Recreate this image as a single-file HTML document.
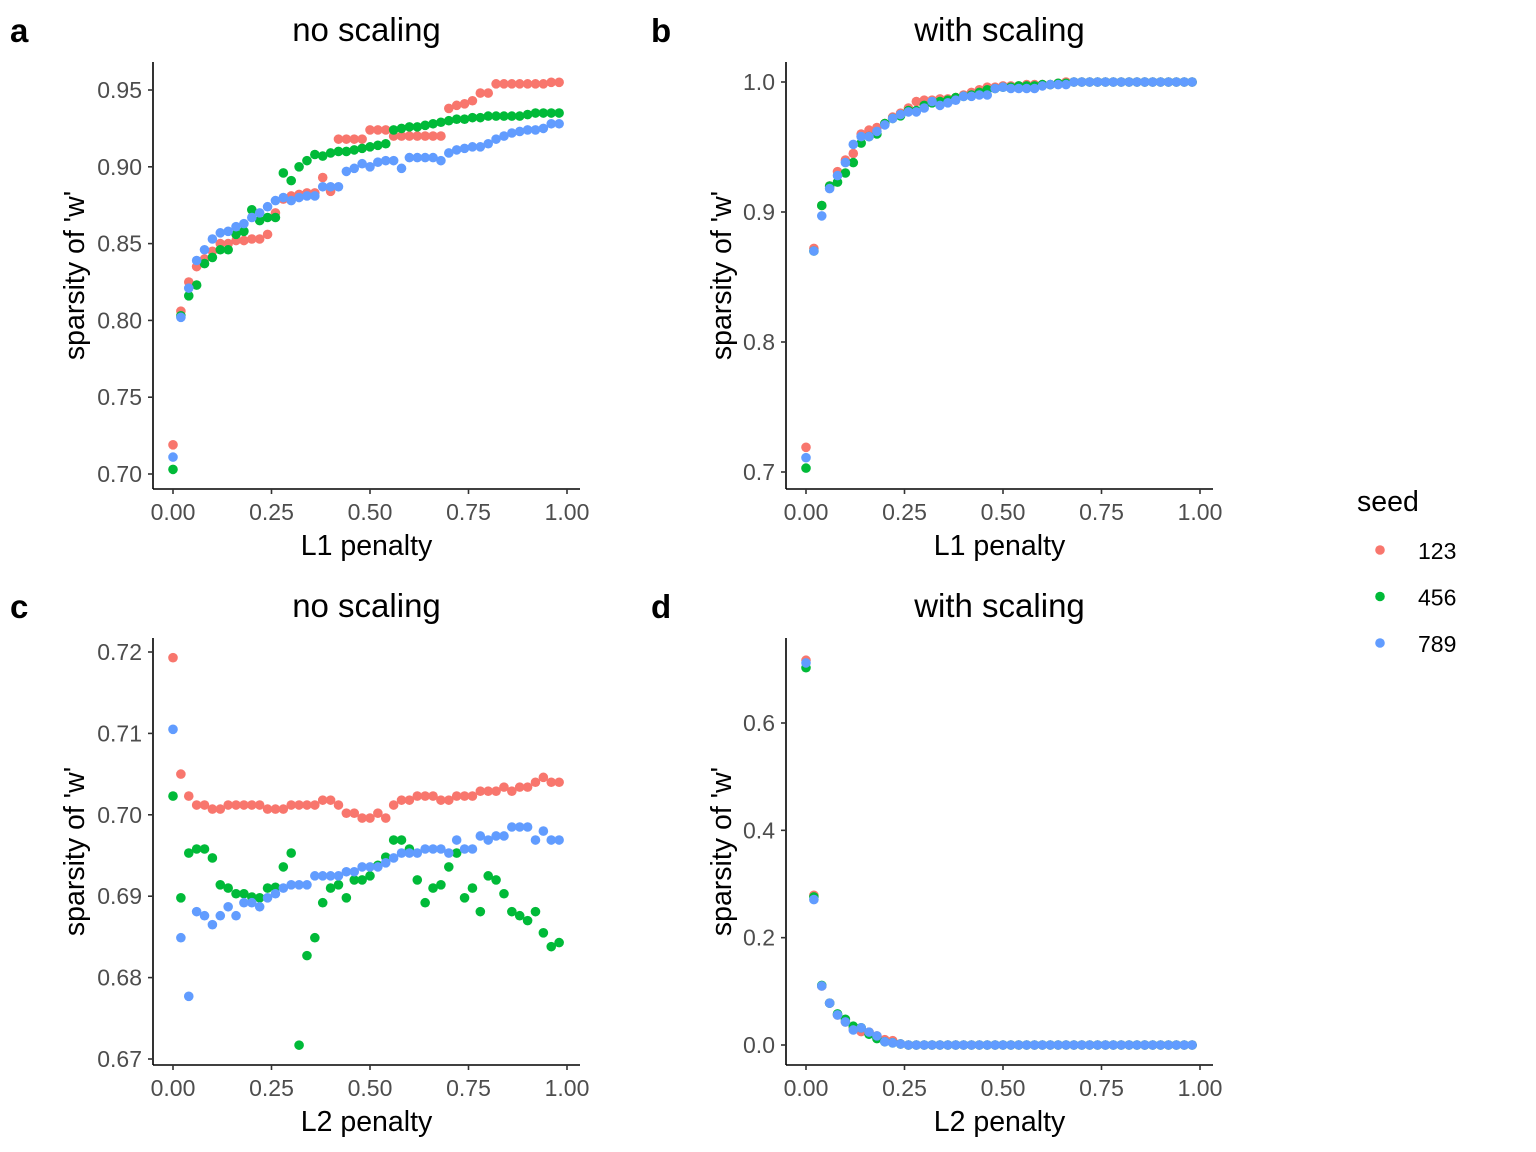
<!DOCTYPE html>
<html><head><meta charset="utf-8">
<style>
body{margin:0;background:#fff;}
svg{display:block;font-family:"Liberation Sans",Arial,sans-serif;}
.tick{fill:#4d4d4d;font-size:23px;}
.ttl{fill:#000;font-size:28.5px;}
.ptitle{fill:#000;font-size:33px;}
.tag{fill:#000;font-size:33px;font-weight:bold;}
</style></head>
<body>
<svg id="chart" width="1536" height="1152" viewBox="0 0 1536 1152"></svg>
<script>
// ---- data ----
const xValues = [];
for (let i = 0; i < 50; i++) xValues.push(+(i * 0.02).toFixed(2));
const seeds = ["123", "456", "789"];
const colors = ["#F8766D", "#00BA38", "#619CFF"];

const aRed = [0.719,0.806,0.825,0.835,0.840,0.845,0.850,0.850,0.852,0.852,0.853,0.853,0.856,0.870,0.879,0.881,0.882,0.883,0.883,0.893,0.884,0.918,0.918,0.918,0.918,0.924,0.924,0.924,0.920,0.920,0.920,0.920,0.920,0.920,0.920,0.938,0.940,0.941,0.943,0.948,0.948,0.954,0.954,0.954,0.954,0.954,0.954,0.954,0.955,0.955];
const aGreen = [0.703,0.803,0.816,0.823,0.837,0.841,0.846,0.846,0.856,0.858,0.872,0.865,0.867,0.867,0.896,0.891,0.900,0.904,0.908,0.907,0.909,0.910,0.910,0.911,0.912,0.913,0.914,0.915,0.924,0.925,0.926,0.926,0.927,0.928,0.929,0.930,0.931,0.931,0.932,0.932,0.933,0.933,0.933,0.933,0.933,0.934,0.935,0.935,0.935,0.935];
const aBlue = [0.711,0.802,0.821,0.839,0.846,0.853,0.857,0.858,0.861,0.863,0.867,0.870,0.874,0.878,0.880,0.878,0.880,0.881,0.881,0.887,0.887,0.887,0.897,0.899,0.902,0.900,0.903,0.904,0.904,0.899,0.906,0.906,0.906,0.906,0.904,0.909,0.911,0.912,0.913,0.913,0.915,0.918,0.920,0.922,0.923,0.924,0.924,0.925,0.928,0.928];

const bRed = [0.719,0.872,0.905,0.920,0.931,0.940,0.945,0.960,0.963,0.965,0.968,0.973,0.976,0.980,0.985,0.986,0.986,0.987,0.987,0.988,0.990,0.992,0.994,0.996,0.996,0.997,0.997,0.997,0.998,0.998,0.998,0.998,0.999,1.0,1.0,1.0,1.0,1.0,1.0,1.0,1.0,1.0,1.0,1.0,1.0,1.0,1.0,1.0,1.0,1.0];
const bGreen = [0.703,0.870,0.905,0.920,0.923,0.930,0.938,0.953,0.958,0.960,0.968,0.972,0.974,0.978,0.978,0.982,0.984,0.985,0.986,0.988,0.989,0.990,0.992,0.994,0.995,0.996,0.996,0.997,0.997,0.997,0.998,0.998,0.999,0.999,1.0,1.0,1.0,1.0,1.0,1.0,1.0,1.0,1.0,1.0,1.0,1.0,1.0,1.0,1.0,1.0];
const bBlue = [0.711,0.870,0.897,0.918,0.928,0.938,0.952,0.958,0.958,0.962,0.967,0.972,0.975,0.977,0.977,0.980,0.985,0.982,0.984,0.986,0.989,0.989,0.990,0.990,0.995,0.996,0.995,0.995,0.995,0.995,0.997,0.998,0.998,0.998,1.0,1.0,1.0,1.0,1.0,1.0,1.0,1.0,1.0,1.0,1.0,1.0,1.0,1.0,1.0,1.0];

const cRed = [0.7193,0.7050,0.7023,0.7012,0.7012,0.7007,0.7007,0.7012,0.7012,0.7012,0.7012,0.7012,0.7007,0.7007,0.7007,0.7012,0.7012,0.7012,0.7012,0.7018,0.7018,0.7012,0.7002,0.7002,0.6996,0.6996,0.7002,0.6996,0.7012,0.7018,0.7018,0.7023,0.7023,0.7023,0.7018,0.7018,0.7023,0.7023,0.7023,0.7029,0.7029,0.7029,0.7034,0.7029,0.7034,0.7034,0.7040,0.7046,0.7040,0.7040];
const cGreen = [0.7023,0.6898,0.6953,0.6958,0.6958,0.6947,0.6914,0.6910,0.6903,0.6903,0.6899,0.6898,0.6910,0.6911,0.6936,0.6953,0.6717,0.6827,0.6849,0.6892,0.6910,0.6914,0.6898,0.6920,0.6920,0.6925,0.6938,0.6948,0.6969,0.6969,0.6958,0.6920,0.6892,0.6910,0.6914,0.6936,0.6953,0.6898,0.6910,0.6881,0.6925,0.6920,0.6903,0.6881,0.6876,0.6870,0.6881,0.6855,0.6838,0.6843];
const cBlue = [0.7105,0.6849,0.6777,0.6881,0.6876,0.6865,0.6876,0.6887,0.6876,0.6892,0.6892,0.6887,0.6898,0.6903,0.6910,0.6914,0.6914,0.6914,0.6925,0.6925,0.6925,0.6925,0.6930,0.6930,0.6936,0.6936,0.6936,0.6941,0.6947,0.6953,0.6953,0.6953,0.6958,0.6958,0.6958,0.6953,0.6969,0.6958,0.6958,0.6974,0.6969,0.6974,0.6974,0.6985,0.6985,0.6985,0.6969,0.6980,0.6969,0.6969];

const dRed = [0.717,0.279,0.110,0.078,0.056,0.043,0.032,0.025,0.024,0.017,0.010,0.008,0.002,0,0,0,0,0,0,0,0,0,0,0,0,0,0,0,0,0,0,0,0,0,0,0,0,0,0,0,0,0,0,0,0,0,0,0,0,0];
const dGreen = [0.703,0.276,0.111,0.078,0.058,0.048,0.035,0.032,0.020,0.012,0.006,0.004,0.002,0,0,0,0,0,0,0,0,0,0,0,0,0,0,0,0,0,0,0,0,0,0,0,0,0,0,0,0,0,0,0,0,0,0,0,0,0];
const dBlue = [0.712,0.271,0.110,0.078,0.056,0.043,0.028,0.032,0.024,0.017,0.006,0.004,0.002,0,0,0,0,0,0,0,0,0,0,0,0,0,0,0,0,0,0,0,0,0,0,0,0,0,0,0,0,0,0,0,0,0,0,0,0,0];

const xTicks = [0, 0.25, 0.5, 0.75, 1.0];
const xTickLabels = ["0.00", "0.25", "0.50", "0.75", "1.00"];
const aTicks = [0.70, 0.75, 0.80, 0.85, 0.90, 0.95];
const aTickLabels = ["0.70", "0.75", "0.80", "0.85", "0.90", "0.95"];
const bTicks = [0.7, 0.8, 0.9, 1.0];
const bTickLabels = ["0.7", "0.8", "0.9", "1.0"];
const cTicks = [0.67, 0.68, 0.69, 0.70, 0.71, 0.72];
const cTickLabels = ["0.67", "0.68", "0.69", "0.70", "0.71", "0.72"];
const dTicks = [0.0, 0.2, 0.4, 0.6];
const dTickLabels = ["0.0", "0.2", "0.4", "0.6"];

// ---- drawing ----
const svg = document.getElementById('chart');
const NS = 'http://www.w3.org/2000/svg';
function mk(tag, attrs, parent) {
  const e = document.createElementNS(NS, tag);
  for (const k in attrs) e.setAttribute(k, attrs[k]);
  (parent || svg).appendChild(e);
  return e;
}
function txt(s, attrs, cls, parent) {
  const t = mk('text', attrs, parent);
  t.setAttribute('class', cls);
  t.textContent = s;
  return t;
}

function panel(cfg) {
  const g = mk('g', {});
  
  
  const xs = v => cfg.x0 + (v - 0) * (cfg.x1 - cfg.x0);
  const ys = v => cfg.yA + (v - cfg.vA) * (cfg.yB - cfg.yA) / (cfg.vB - cfg.vA);
  const L = cfg.axX, B = cfg.axY;
  const yl = mk('line', {x1: L, y1: cfg.top, x2: L, y2: B, stroke: '#000', 'stroke-width': 1.6}, g);
  
  
  const xl = mk('line', {x1: L, y1: B, x2: cfg.right, y2: B, stroke: '#000', 'stroke-width': 1.6}, g);
  
  
  xTicks.forEach((v, i) => {
    const x = xs(v);
    mk('line', {x1: x, y1: B, x2: x, y2: B + 5, stroke: '#333', 'stroke-width': 1.6}, g);
    const t = txt(xTickLabels[i], {x: x, y: B + 31, 'text-anchor': 'middle'}, 'tick', g);
    
    
  });
  cfg.ticks.forEach((v, i) => {
    const y = ys(v);
    mk('line', {x1: L - 5, y1: y, x2: L, y2: y, stroke: '#333', 'stroke-width': 1.6}, g);
    const t = txt(cfg.tickLabels[i], {x: L - 11, y: y + 8, 'text-anchor': 'end'}, 'tick', g);
    
    
  });
  const xt = txt(cfg.xTitle, {x: (L + cfg.right) / 2, y: B + 66, 'text-anchor': 'middle'}, 'ttl', g);
  
  
  const cy = (cfg.top + B) / 2;
  const yt = txt("sparsity of 'w'", {x: cfg.yTitleX, y: cy, 'text-anchor': 'middle', transform: 'rotate(-90 ' + cfg.yTitleX + ' ' + cy + ')'}, 'ttl', g);
  
  
  const pt = txt(cfg.title, {x: (L + cfg.right) / 2, y: cfg.titleY, 'text-anchor': 'middle'}, 'ptitle', g);
  
  
  const tg = txt(cfg.tag, {x: cfg.tagX, y: cfg.titleY + 1}, 'tag', g);
  
  
  cfg.series.forEach((arr, s) => {
    const sg = mk('g', {fill: colors[s]}, g);
    
    
    arr.forEach((v, i) => {
      const c = mk('circle', {cx: xs(xValues[i]), cy: ys(v), r: 4.8}, sg);
      
      
    });
  });
}

panel({tag: 'a', title: 'no scaling', xTitle: 'L1 penalty', x0: 173, x1: 567, axX: 153, axY: 489, top: 62, right: 580,
  vA: 0.95, yA: 90, vB: 0.70, yB: 474, ticks: aTicks, tickLabels: aTickLabels, yTitleX: 84, titleY: 41, tagX: 10,
  series: [aRed, aGreen, aBlue]});
panel({tag: 'b', title: 'with scaling', xTitle: 'L1 penalty', x0: 806, x1: 1200, axX: 786, axY: 489, top: 62, right: 1213,
  vA: 1.0, yA: 82, vB: 0.7, yB: 472, ticks: bTicks, tickLabels: bTickLabels, yTitleX: 731, titleY: 41, tagX: 651,
  series: [bRed, bGreen, bBlue]});
panel({tag: 'c', title: 'no scaling', xTitle: 'L2 penalty', x0: 173, x1: 567, axX: 153, axY: 1065, top: 638, right: 580,
  vA: 0.72, yA: 652, vB: 0.67, yB: 1059, ticks: cTicks, tickLabels: cTickLabels, yTitleX: 84, titleY: 617, tagX: 10,
  series: [cRed, cGreen, cBlue]});
panel({tag: 'd', title: 'with scaling', xTitle: 'L2 penalty', x0: 806, x1: 1200, axX: 786, axY: 1065, top: 638, right: 1213,
  vA: 0.0, yA: 1045, vB: 0.6, yB: 723, ticks: dTicks, tickLabels: dTickLabels, yTitleX: 731, titleY: 617, tagX: 651,
  series: [dRed, dGreen, dBlue]});

// legend
const lg = mk('g', {});


const lt = txt('seed', {x: 1357, y: 511}, 'ttl', lg);


seeds.forEach((s, i) => {
  const eg = mk('g', {}, lg);
  
  
  const y = 550 + i * 46.5;
  mk('circle', {cx: 1380, cy: y, r: 4.8, fill: colors[i]}, eg);
  const t = txt(s, {x: 1418, y: y + 9}, 'tick', eg);
  t.style.fill = '#000';
  t.style.fontSize = '23px';
});
</script>
</body></html>
